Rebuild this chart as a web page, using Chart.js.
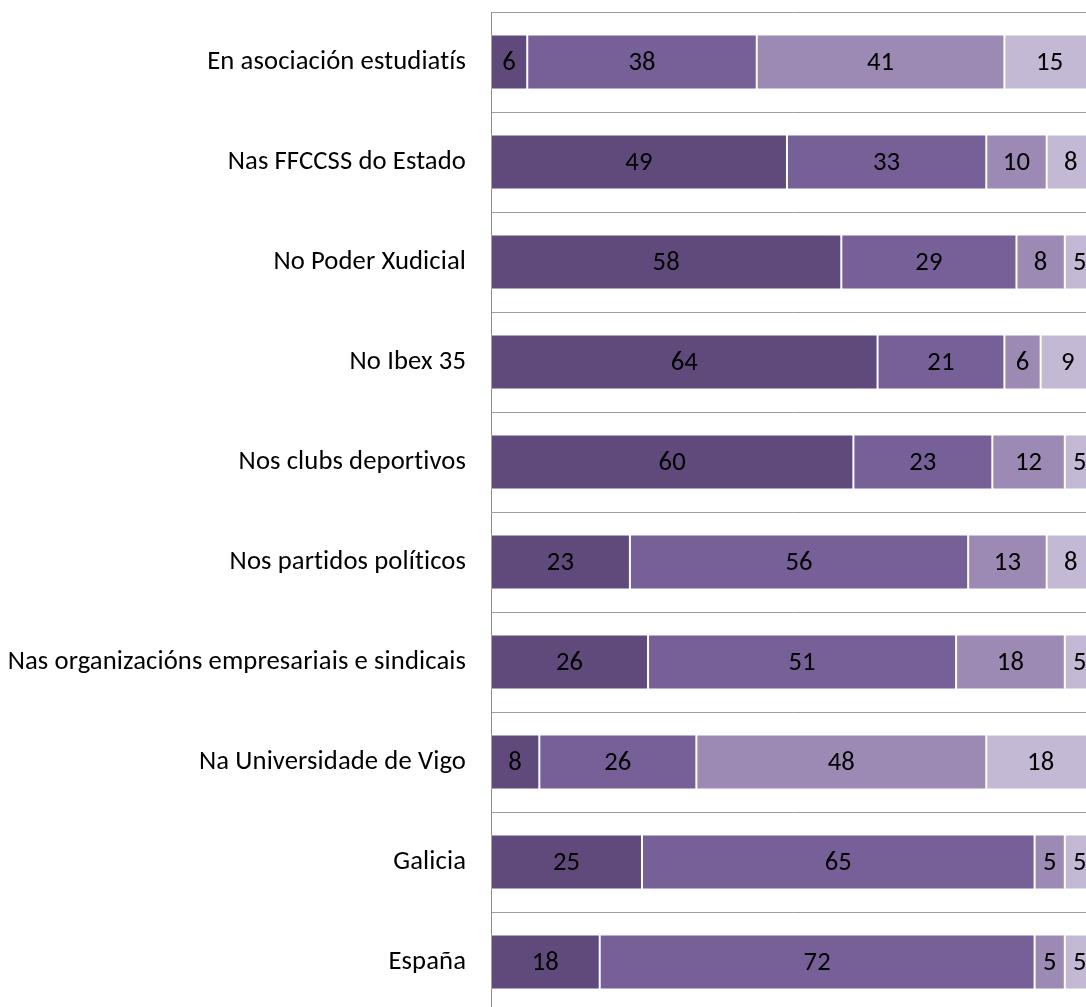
<!DOCTYPE html>
<html>
<head>
<meta charset="utf-8">
<script src="https://cdn.jsdelivr.net/npm/chart.js@4/dist/chart.umd.min.js"></script>
<style>
html,body{margin:0;padding:0;background:#fff;overflow:hidden;width:1086px;height:1007px;}
#wrap{position:absolute;left:0;top:0;width:1095px;height:1012px;}
canvas{font-variant-ligatures:none;}
</style>
</head>
<body>
<div id="wrap"><canvas id="c" width="1095" height="1012"></canvas></div>
<script>
const categories = [
  "En asociación estudiatís",
  "Nas FFCCSS do Estado",
  "No Poder Xudicial",
  "No Ibex 35",
  "Nos clubs deportivos",
  "Nos partidos políticos",
  "Nas organizacións empresariais e sindicais",
  "Na Universidade de Vigo",
  "Galicia",
  "España"
];
const series1 = [6, 49, 58, 64, 60, 23, 26, 8, 25, 18];
const series2 = [38, 33, 29, 21, 23, 56, 51, 26, 65, 72];
const series3 = [41, 10, 8, 6, 12, 13, 18, 48, 5, 5];
const series4 = [15, 8, 5, 9, 5, 8, 5, 18, 5, 5];
const colors = ["#604a7b", "#775f98", "#9c8ab4", "#c4b9d4"];

const FONT = "Carlito, Lato, 'Open Sans', sans-serif";
const FSIZE = 26.67;

const noLigPlugin = {
  id: 'noLigatures',
  beforeDraw(chart) {
    const ctx = chart.ctx;
    try { ctx.textRendering = 'optimizeSpeed'; } catch (e) {}
    try { ctx.letterSpacing = '0.1px'; } catch (e) {}
  }
};

const labelPlugin = {
  id: 'valueLabels',
  afterDatasetsDraw(chart) {
    const ctx = chart.ctx;
    ctx.save();
    ctx.font = FSIZE + "px " + FONT;
    ctx.fillStyle = "#000";
    ctx.textAlign = "center";
    ctx.textBaseline = "middle";
    chart.data.datasets.forEach((ds, i) => {
      const meta = chart.getDatasetMeta(i);
      meta.data.forEach((bar, j) => {
        const v = ds.data[j];
        const cx = (bar.x + bar.base) / 2;
        ctx.fillText(String(v), cx, bar.y + 1);
      });
    });
    ctx.restore();
  }
};

const mk = (data, k) => ({
  data: data,
  backgroundColor: colors[k],
  borderColor: "rgba(255,255,255,0.18)",
  borderWidth: 1,
  borderSkipped: false,
  barPercentage: 0.55,
  categoryPercentage: 1.0
});

new Chart(document.getElementById('c'), {
  type: 'bar',
  data: {
    labels: categories,
    datasets: [mk(series1,0), mk(series2,1), mk(series3,2), mk(series4,3)]
  },
  options: {
    indexAxis: 'y',
    responsive: false,
    animation: false,
    layout: { padding: { top: 12, left: 0, right: 0, bottom: 0 } },
    plugins: { legend: { display: false }, tooltip: { enabled: false } },
    scales: {
      x: {
        stacked: true, min: 0, max: 100, display: false
      },
      y: {
        stacked: true,
        afterFit(scale) { scale.width = 491; scale.paddingTop = 0; scale.paddingBottom = 0; },
        grid: { offset: true, color: "#9d9d9d", lineWidth: 1, drawTicks: false },
        border: { display: true, color: "#8c8c8c", width: 1 },
        ticks: { color: "#000", font: { family: FONT, size: FSIZE }, padding: 25, autoSkip: false }
      }
    }
  },
  plugins: [noLigPlugin, labelPlugin]
});
</script>
</body>
</html>
